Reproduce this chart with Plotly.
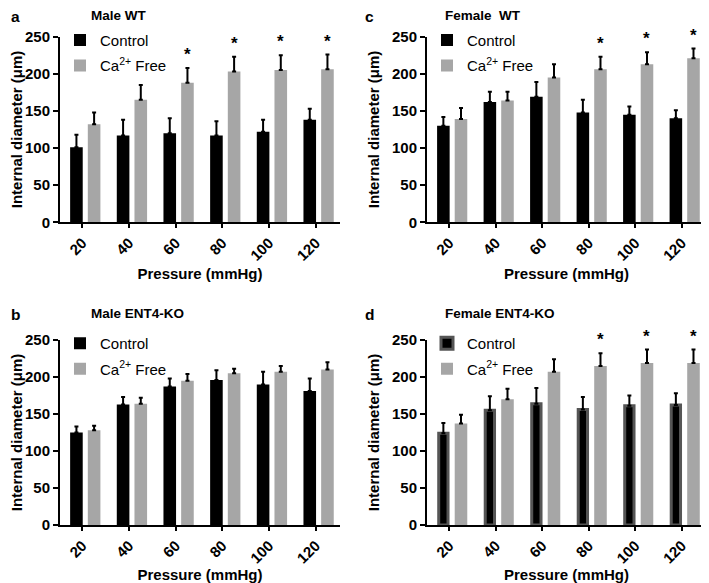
import plotly.graph_objects as go

# ---------------- data ----------------
pressures = ["20", "40", "60", "80", "100", "120"]

a_control = [101, 117, 120, 117, 122, 138]
a_control_err = [17, 21, 20, 19, 16, 15]
a_ca_free = [132, 165, 188, 203, 205, 206]
a_ca_free_err = [16, 20, 20, 20, 20, 20]
a_sig = [False, False, True, True, True, True]

b_control = [125, 163, 187, 196, 190, 181]
b_control_err = [8, 10, 11, 13, 17, 17]
b_ca_free = [128, 164, 195, 205, 207, 210]
b_ca_free_err = [6, 8, 9, 6, 8, 10]
b_sig = [False, False, False, False, False, False]

c_control = [130, 162, 169, 148, 145, 140]
c_control_err = [12, 14, 20, 17, 11, 11]
c_ca_free = [139, 164, 195, 206, 213, 221]
c_ca_free_err = [15, 12, 18, 17, 16, 13]
c_sig = [False, False, False, True, True, True]

d_control = [124, 155, 164, 156, 161, 162]
d_control_err = [14, 19, 21, 17, 14, 16]
d_ca_free = [137, 170, 207, 215, 219, 219]
d_ca_free_err = [12, 14, 17, 17, 18, 18]
d_sig = [False, False, False, True, True, True]

panel_letters = ["a", "b", "c", "d"]
panel_titles = ["Male WT", "Male ENT4-KO", "Female  WT", "Female ENT4-KO"]
y_ticks = [0, 50, 100, 150, 200, 250]

# ---------------- style / geometry ----------------
PAGE_W, PAGE_H = 709, 583
BODY = 8                      # default page body margin
W, H = PAGE_W - BODY, PAGE_H - BODY
FONT = "Liberation Sans, Arial, Helvetica, sans-serif"
GRAY = "#a6a6a6"
BAR_W = 0.27
CTRL_OFF = -0.263
CA_OFF = 0.116
X_RANGE = [-0.48, 5.52]


def px(xp):
    return (xp - BODY) / W


def py(yp):
    return 1 - (yp - BODY) / H


x_left = [px(60), px(340)]
x_right = [px(427), px(706)]
y_top = [py(222.3), py(36.7)]
y_bot = [py(525), py(340)]

panels = [
    dict(ctrl=a_control, ctrl_e=a_control_err, ca=a_ca_free, ca_e=a_ca_free_err, sig=a_sig,
         xd=x_left, yd=y_top, outlined=False, lx=10, ly=16.5, ty=15.6),
    dict(ctrl=b_control, ctrl_e=b_control_err, ca=b_ca_free, ca_e=b_ca_free_err, sig=b_sig,
         xd=x_left, yd=y_bot, outlined=False, lx=10, ly=314, ty=313),
    dict(ctrl=c_control, ctrl_e=c_control_err, ca=c_ca_free, ca_e=c_ca_free_err, sig=c_sig,
         xd=x_right, yd=y_top, outlined=False, lx=364, ly=16.5, ty=15.6),
    dict(ctrl=d_control, ctrl_e=d_control_err, ca=d_ca_free, ca_e=d_ca_free_err, sig=d_sig,
         xd=x_right, yd=y_bot, outlined=True, lx=364, ly=314, ty=313),
]

fig = go.Figure()
annotations = []
layout = dict(
    width=W, height=H,
    margin=dict(l=0, r=0, t=0, b=0, autoexpand=False),
    paper_bgcolor="white", plot_bgcolor="white",
    barmode="group",
    font=dict(family=FONT, color="black"),
    showlegend=True,
)

for i, p in enumerate(panels):
    n = i + 1
    xa = "x" if n == 1 else f"x{n}"
    ya = "y" if n == 1 else f"y{n}"
    lg = "legend" if n == 1 else f"legend{n}"

    if p["outlined"]:
        ctrl_marker = dict(color="black", line=dict(color="#555555", width=3))
        ctrl_w, ctrl_off = 0.2, CTRL_OFF + 0.035
    else:
        ctrl_marker = dict(color="black", line=dict(width=0))
        ctrl_w, ctrl_off = BAR_W, CTRL_OFF

    fig.add_trace(go.Bar(
        x=pressures, y=p["ctrl"], name="Control",
        width=ctrl_w, offset=ctrl_off, marker=ctrl_marker,
        error_y=dict(type="data", array=p["ctrl_e"], arrayminus=[0] * len(pressures),
                     symmetric=False, color="black", thickness=2, width=2),
        xaxis=xa, yaxis=ya, legend=lg, legendgroup=f"ctrl{n}",
    ))
    fig.add_trace(go.Bar(
        x=pressures, y=p["ca"], name="Ca<sup>2+</sup> Free",
        width=BAR_W, offset=CA_OFF, marker=dict(color=GRAY, line=dict(width=0)),
        error_y=dict(type="data", array=p["ca_e"], arrayminus=[0] * len(pressures),
                     symmetric=False, color="black", thickness=2, width=2),
        xaxis=xa, yaxis=ya, legend=lg, legendgroup=f"ca{n}",
    ))

    xkey = "xaxis" if n == 1 else f"xaxis{n}"
    ykey = "yaxis" if n == 1 else f"yaxis{n}"
    layout[xkey] = dict(
        domain=p["xd"], anchor=ya, type="category", range=X_RANGE, automargin=True,
        showline=True, linecolor="black", linewidth=2, mirror=False,
        ticks="outside", ticklen=4, tickwidth=2, tickcolor="black",
        tickangle=-45, showgrid=False, zeroline=False,
        tickfont=dict(family=FONT, size=15, weight="bold"),
        title=dict(text="Pressure (mmHg)", font=dict(family=FONT, size=15, weight="bold"), standoff=6),
    )
    layout[ykey] = dict(
        domain=p["yd"], anchor=xa, range=[0, 250], automargin=True,
        tickvals=y_ticks,
        showline=True, linecolor="black", linewidth=2,
        ticks="outside", ticklen=5, tickwidth=2, tickcolor="black",
        showgrid=False, zeroline=False,
        tickfont=dict(family=FONT, size=15, weight="bold"),
        title=dict(text="Internal diameter (μm)", font=dict(family=FONT, size=15, weight="bold"), standoff=9),
    )
    layout[lg] = dict(
        x=p["xd"][0], xanchor="left", y=p["yd"][1] + 13 / H, yanchor="top",
        bgcolor="rgba(0,0,0,0)", font=dict(family=FONT, size=15, color="black"),
        traceorder="grouped", tracegroupgap=3,
    )

    # significance stars above Ca2+ Free bars (category axis: use category index)
    px_per_cat = (p["xd"][1] - p["xd"][0]) * W / (X_RANGE[1] - X_RANGE[0])
    star_shift = (CA_OFF + BAR_W / 2) * px_per_cat
    for k, (val, err, s) in enumerate(zip(p["ca"], p["ca_e"], p["sig"])):
        if s:
            annotations.append(dict(
                x=k, y=val + err, xref=xa, yref=ya, text="*", showarrow=False,
                yanchor="bottom", xanchor="center", xshift=star_shift, yshift=2,
                font=dict(family=FONT, size=17, weight="bold", color="black"),
            ))

    # panel letter and title
    annotations.append(dict(
        x=px(p["lx"]), y=py(p["ly"]), xref="paper", yref="paper", text=panel_letters[i],
        showarrow=False, xanchor="left", yanchor="middle", borderpad=0,
        font=dict(family=FONT, size=15.5, weight="bold", color="black"),
    ))
    annotations.append(dict(
        x=px(p["lx"] + 80), y=py(p["ty"]), xref="paper", yref="paper", text=panel_titles[i],
        showarrow=False, xanchor="left", yanchor="middle", borderpad=0,
        font=dict(family=FONT, size=13.5, weight="bold", color="black"),
    ))

layout["annotations"] = annotations
fig.update_layout(**layout)
fig.write_html("out.html")
